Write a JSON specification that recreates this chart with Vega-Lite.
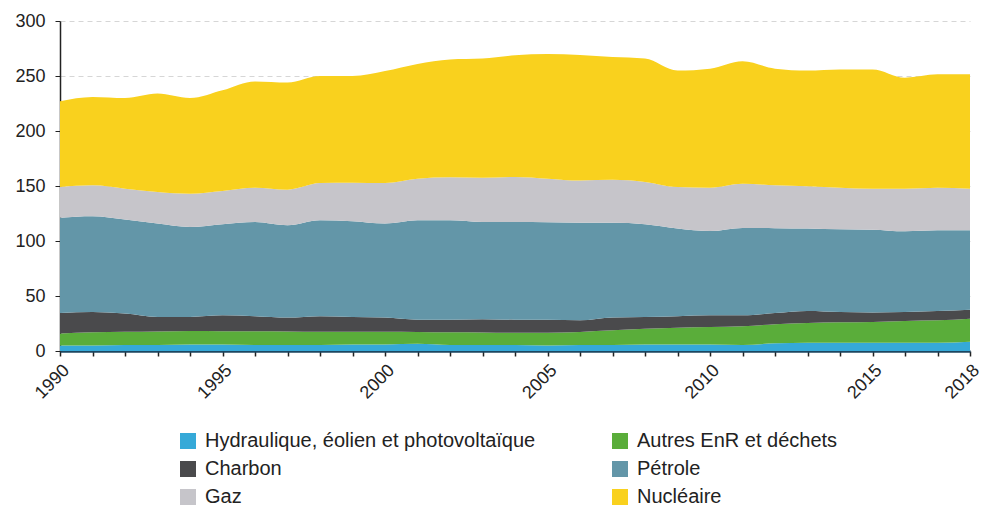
{
  "$schema": "https://vega.github.io/schema/vega-lite/v6.json",
  "width": 910,
  "height": 330,
  "autosize": {"type": "none"},
  "padding": {"left": 60, "top": 21, "right": 12, "bottom": 158},
  "background": "white",
  "config": {
    "view": {"stroke": null},
    "font": "Liberation Sans"
  },
  "datasets": {
    "sources": [
      {"source":"Hydraulique, éolien et photovoltaïque","stackOrder":1},
      {"source":"Autres EnR et déchets","stackOrder":2},
      {"source":"Charbon","stackOrder":3},
      {"source":"Pétrole","stackOrder":4},
      {"source":"Gaz","stackOrder":5},
      {"source":"Nucléaire","stackOrder":6}
    ]
  },
  "data": {
    "values": [
      {"year":1990,"source":"Hydraulique, éolien et photovoltaïque","value":5.0},{"year":1990,"source":"Autres EnR et déchets","value":11.0},{"year":1990,"source":"Charbon","value":18.5},{"year":1990,"source":"Pétrole","value":86.7},{"year":1990,"source":"Gaz","value":27.8},{"year":1990,"source":"Nucléaire","value":78.0},
      {"year":1991,"source":"Hydraulique, éolien et photovoltaïque","value":5.0},{"year":1991,"source":"Autres EnR et déchets","value":12.0},{"year":1991,"source":"Charbon","value":18.5},{"year":1991,"source":"Pétrole","value":87.0},{"year":1991,"source":"Gaz","value":28.1},{"year":1991,"source":"Nucléaire","value":80.4},
      {"year":1992,"source":"Hydraulique, éolien et photovoltaïque","value":5.5},{"year":1992,"source":"Autres EnR et déchets","value":12.0},{"year":1992,"source":"Charbon","value":16.5},{"year":1992,"source":"Pétrole","value":85.5},{"year":1992,"source":"Gaz","value":28.1},{"year":1992,"source":"Nucléaire","value":82.4},
      {"year":1993,"source":"Hydraulique, éolien et photovoltaïque","value":5.5},{"year":1993,"source":"Autres EnR et déchets","value":12.3},{"year":1993,"source":"Charbon","value":13.2},{"year":1993,"source":"Pétrole","value":84.8},{"year":1993,"source":"Gaz","value":28.8},{"year":1993,"source":"Nucléaire","value":89.4},
      {"year":1994,"source":"Hydraulique, éolien et photovoltaïque","value":6.0},{"year":1994,"source":"Autres EnR et déchets","value":12.2},{"year":1994,"source":"Charbon","value":12.8},{"year":1994,"source":"Pétrole","value":81.7},{"year":1994,"source":"Gaz","value":30.3},{"year":1994,"source":"Nucléaire","value":87.0},
      {"year":1995,"source":"Hydraulique, éolien et photovoltaïque","value":6.0},{"year":1995,"source":"Autres EnR et déchets","value":12.0},{"year":1995,"source":"Charbon","value":14.4},{"year":1995,"source":"Pétrole","value":82.8},{"year":1995,"source":"Gaz","value":30.3},{"year":1995,"source":"Nucléaire","value":91.5},
      {"year":1996,"source":"Hydraulique, éolien et photovoltaïque","value":5.5},{"year":1996,"source":"Autres EnR et déchets","value":12.5},{"year":1996,"source":"Charbon","value":13.7},{"year":1996,"source":"Pétrole","value":85.6},{"year":1996,"source":"Gaz","value":31.2},{"year":1996,"source":"Nucléaire","value":96.5},
      {"year":1997,"source":"Hydraulique, éolien et photovoltaïque","value":5.5},{"year":1997,"source":"Autres EnR et déchets","value":12.3},{"year":1997,"source":"Charbon","value":12.6},{"year":1997,"source":"Pétrole","value":83.9},{"year":1997,"source":"Gaz","value":32.4},{"year":1997,"source":"Nucléaire","value":97.3},
      {"year":1998,"source":"Hydraulique, éolien et photovoltaïque","value":5.5},{"year":1998,"source":"Autres EnR et déchets","value":12.0},{"year":1998,"source":"Charbon","value":14.2},{"year":1998,"source":"Pétrole","value":87.1},{"year":1998,"source":"Gaz","value":33.9},{"year":1998,"source":"Nucléaire","value":97.3},
      {"year":1999,"source":"Hydraulique, éolien et photovoltaïque","value":6.0},{"year":1999,"source":"Autres EnR et déchets","value":11.5},{"year":1999,"source":"Charbon","value":13.5},{"year":1999,"source":"Pétrole","value":87.0},{"year":1999,"source":"Gaz","value":35.0},{"year":1999,"source":"Nucléaire","value":97.0},
      {"year":2000,"source":"Hydraulique, éolien et photovoltaïque","value":6.0},{"year":2000,"source":"Autres EnR et déchets","value":11.5},{"year":2000,"source":"Charbon","value":12.9},{"year":2000,"source":"Pétrole","value":85.4},{"year":2000,"source":"Gaz","value":36.9},{"year":2000,"source":"Nucléaire","value":101.8},
      {"year":2001,"source":"Hydraulique, éolien et photovoltaïque","value":6.5},{"year":2001,"source":"Autres EnR et déchets","value":10.8},{"year":2001,"source":"Charbon","value":11.2},{"year":2001,"source":"Pétrole","value":90.3},{"year":2001,"source":"Gaz","value":37.9},{"year":2001,"source":"Nucléaire","value":104.3},
      {"year":2002,"source":"Hydraulique, éolien et photovoltaïque","value":5.5},{"year":2002,"source":"Autres EnR et déchets","value":11.5},{"year":2002,"source":"Charbon","value":11.5},{"year":2002,"source":"Pétrole","value":90.3},{"year":2002,"source":"Gaz","value":39.2},{"year":2002,"source":"Nucléaire","value":107.0},
      {"year":2003,"source":"Hydraulique, éolien et photovoltaïque","value":5.5},{"year":2003,"source":"Autres EnR et déchets","value":11.3},{"year":2003,"source":"Charbon","value":12.0},{"year":2003,"source":"Pétrole","value":88.5},{"year":2003,"source":"Gaz","value":40.2},{"year":2003,"source":"Nucléaire","value":108.3},
      {"year":2004,"source":"Hydraulique, éolien et photovoltaïque","value":5.5},{"year":2004,"source":"Autres EnR et déchets","value":11.0},{"year":2004,"source":"Charbon","value":12.0},{"year":2004,"source":"Pétrole","value":88.8},{"year":2004,"source":"Gaz","value":40.9},{"year":2004,"source":"Nucléaire","value":110.6},
      {"year":2005,"source":"Hydraulique, éolien et photovoltaïque","value":5.0},{"year":2005,"source":"Autres EnR et déchets","value":11.5},{"year":2005,"source":"Charbon","value":12.0},{"year":2005,"source":"Pétrole","value":88.5},{"year":2005,"source":"Gaz","value":39.7},{"year":2005,"source":"Nucléaire","value":113.3},
      {"year":2006,"source":"Hydraulique, éolien et photovoltaïque","value":5.5},{"year":2006,"source":"Autres EnR et déchets","value":11.8},{"year":2006,"source":"Charbon","value":10.6},{"year":2006,"source":"Pétrole","value":88.6},{"year":2006,"source":"Gaz","value":38.5},{"year":2006,"source":"Nucléaire","value":114.0},
      {"year":2007,"source":"Hydraulique, éolien et photovoltaïque","value":5.5},{"year":2007,"source":"Autres EnR et déchets","value":13.3},{"year":2007,"source":"Charbon","value":11.6},{"year":2007,"source":"Pétrole","value":86.1},{"year":2007,"source":"Gaz","value":39.1},{"year":2007,"source":"Nucléaire","value":111.7},
      {"year":2008,"source":"Hydraulique, éolien et photovoltaïque","value":6.0},{"year":2008,"source":"Autres EnR et déchets","value":14.3},{"year":2008,"source":"Charbon","value":10.7},{"year":2008,"source":"Pétrole","value":84.2},{"year":2008,"source":"Gaz","value":38.5},{"year":2008,"source":"Nucléaire","value":112.3},
      {"year":2009,"source":"Hydraulique, éolien et photovoltaïque","value":6.0},{"year":2009,"source":"Autres EnR et déchets","value":15.2},{"year":2009,"source":"Charbon","value":10.5},{"year":2009,"source":"Pétrole","value":79.6},{"year":2009,"source":"Gaz","value":37.7},{"year":2009,"source":"Nucléaire","value":106.0},
      {"year":2010,"source":"Hydraulique, éolien et photovoltaïque","value":6.0},{"year":2010,"source":"Autres EnR et déchets","value":15.8},{"year":2010,"source":"Charbon","value":10.7},{"year":2010,"source":"Pétrole","value":76.5},{"year":2010,"source":"Gaz","value":39.5},{"year":2010,"source":"Nucléaire","value":108.2},
      {"year":2011,"source":"Hydraulique, éolien et photovoltaïque","value":5.5},{"year":2011,"source":"Autres EnR et déchets","value":16.9},{"year":2011,"source":"Charbon","value":10.1},{"year":2011,"source":"Pétrole","value":79.4},{"year":2011,"source":"Gaz","value":40.1},{"year":2011,"source":"Nucléaire","value":111.4},
      {"year":2012,"source":"Hydraulique, éolien et photovoltaïque","value":7.0},{"year":2012,"source":"Autres EnR et déchets","value":17.3},{"year":2012,"source":"Charbon","value":10.2},{"year":2012,"source":"Pétrole","value":77.1},{"year":2012,"source":"Gaz","value":39.0},{"year":2012,"source":"Nucléaire","value":106.1},
      {"year":2013,"source":"Hydraulique, éolien et photovoltaïque","value":7.5},{"year":2013,"source":"Autres EnR et déchets","value":18.0},{"year":2013,"source":"Charbon","value":10.9},{"year":2013,"source":"Pétrole","value":74.9},{"year":2013,"source":"Gaz","value":38.4},{"year":2013,"source":"Nucléaire","value":105.3},
      {"year":2014,"source":"Hydraulique, éolien et photovoltaïque","value":7.5},{"year":2014,"source":"Autres EnR et déchets","value":18.6},{"year":2014,"source":"Charbon","value":9.4},{"year":2014,"source":"Pétrole","value":75.1},{"year":2014,"source":"Gaz","value":37.9},{"year":2014,"source":"Nucléaire","value":107.5},
      {"year":2015,"source":"Hydraulique, éolien et photovoltaïque","value":7.5},{"year":2015,"source":"Autres EnR et déchets","value":18.9},{"year":2015,"source":"Charbon","value":8.6},{"year":2015,"source":"Pétrole","value":75.3},{"year":2015,"source":"Gaz","value":37.3},{"year":2015,"source":"Nucléaire","value":108.4},
      {"year":2016,"source":"Hydraulique, éolien et photovoltaïque","value":7.5},{"year":2016,"source":"Autres EnR et déchets","value":19.8},{"year":2016,"source":"Charbon","value":8.2},{"year":2016,"source":"Pétrole","value":73.3},{"year":2016,"source":"Gaz","value":38.8},{"year":2016,"source":"Nucléaire","value":100.9},
      {"year":2017,"source":"Hydraulique, éolien et photovoltaïque","value":7.5},{"year":2017,"source":"Autres EnR et déchets","value":20.4},{"year":2017,"source":"Charbon","value":8.5},{"year":2017,"source":"Pétrole","value":73.3},{"year":2017,"source":"Gaz","value":38.8},{"year":2017,"source":"Nucléaire","value":103.0},
      {"year":2018,"source":"Hydraulique, éolien et photovoltaïque","value":8.5},{"year":2018,"source":"Autres EnR et déchets","value":20.9},{"year":2018,"source":"Charbon","value":8.2},{"year":2018,"source":"Pétrole","value":72.1},{"year":2018,"source":"Gaz","value":37.9},{"year":2018,"source":"Nucléaire","value":103.9}
    ]
  },
  "transform": [
    {"lookup": "source", "from": {"data": {"name": "sources"}, "key": "source", "fields": ["stackOrder"]}}
  ],
  "mark": {"type": "area", "interpolate": "monotone", "opacity": 1},
  "encoding": {
    "x": {
      "field": "year",
      "type": "quantitative",
      "scale": {"domain": [1990, 2018], "nice": false, "zero": false},
      "axis": {
        "title": null,
        "values": [1990,1991,1992,1993,1994,1995,1996,1997,1998,1999,2000,2001,2002,2003,2004,2005,2006,2007,2008,2009,2010,2011,2012,2013,2014,2015,2016,2017,2018],
        "format": "d",
        "labelExpr": "indexof([1990,1995,2000,2005,2010,2015,2018], datum.value) >= 0 ? datum.label : ''",
        "labelAngle": -45,
        "labelFontSize": 18,
        "labelColor": "#222222",
        "labelOverlap": false,
        "labelFlush": false,
        "labelBound": false,
        "labelPadding": 5,
        "tickSize": 5,
        "tickColor": "#222222",
        "tickWidth": 1.5,
        "domainColor": "#1d4660",
        "domainWidth": 2.5,
        "grid": false
      }
    },
    "y": {
      "field": "value",
      "type": "quantitative",
      "stack": "zero",
      "scale": {"domain": [0, 300], "nice": false},
      "axis": {
        "title": null,
        "values": [0, 50, 100, 150, 200, 250, 300],
        "labelFontSize": 18,
        "labelColor": "#222222",
        "labelPadding": 10,
        "tickSize": 5,
        "tickColor": "#222222",
        "domainColor": "#222222",
        "domainWidth": 1.5,
        "grid": true,
        "gridColor": "#d6d6d6",
        "gridDash": [5, 4],
        "gridWidth": 1
      }
    },
    "order": {"field": "stackOrder", "type": "quantitative", "sort": "ascending"},
    "color": {
      "field": "source",
      "type": "nominal",
      "scale": {
        "domain": ["Hydraulique, éolien et photovoltaïque", "Charbon", "Gaz", "Autres EnR et déchets", "Pétrole", "Nucléaire"],
        "range": ["#35a9d8", "#4a4a4c", "#c6c5ca", "#5aad3a", "#6396a8", "#f9d11e"]
      },
      "legend": {
        "title": null,
        "orient": "none",
        "legendX": 118,
        "legendY": 410,
        "columns": 2,
        "symbolType": "square",
        "symbolSize": 256,
        "symbolStrokeWidth": 0,
        "symbolOpacity": 1,
        "labelFontSize": 20,
        "labelColor": "#222222",
        "labelLimit": 600,
        "labelOffset": 7,
        "columnPadding": 74,
        "rowPadding": 8
      }
    }
  }
}
